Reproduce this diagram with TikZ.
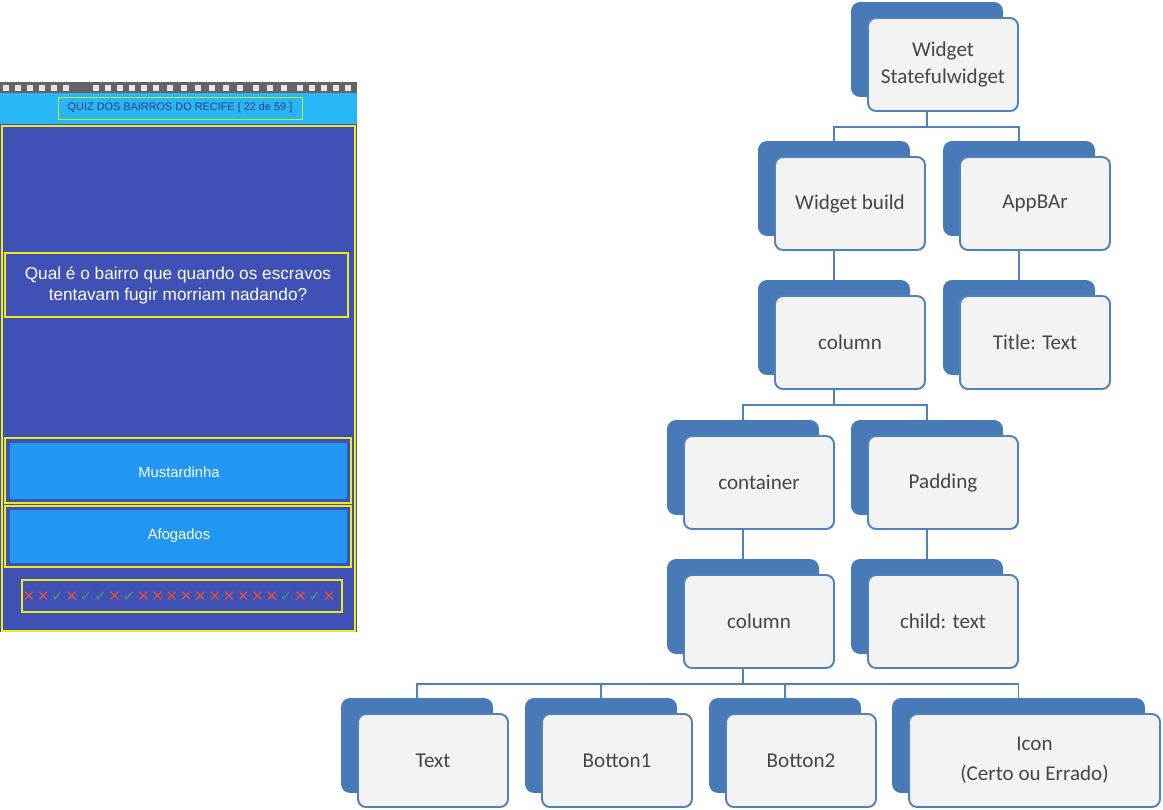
\documentclass[tikz,border=0pt]{standalone}
\usepackage{fontspec}
\setmainfont{Carlito}
\newfontfamily\phonefont{Liberation Sans}
\newfontfamily\symfont{DejaVu Sans}
\usetikzlibrary{positioning, shadows, calc}

\definecolor{boxblue}{RGB}{79,129,189}
\definecolor{shadeblue}{RGB}{72,122,184}
\definecolor{boxfill}{RGB}{243,243,243}
\definecolor{labelgray}{RGB}{70,70,70}
\definecolor{quizindigo}{RGB}{63,81,181}
\definecolor{quizcyan}{RGB}{41,182,246}
\definecolor{quizbutton}{RGB}{33,150,243}
\definecolor{quizyellow}{RGB}{238,232,30}
\definecolor{quizred}{RGB}{229,80,60}
\definecolor{quizgreen}{RGB}{67,160,90}
\definecolor{statusgray}{RGB}{100,100,100}

\tikzset{
  widget/.style={draw=boxblue, line width=1.1pt, fill=boxfill, rounded corners=0.16cm,
    minimum width=3cm, minimum height=1.86cm, align=center, text=labelgray,
    font=\fontsize{12}{15}\selectfont,
    copy shadow={shadow xshift=-0.32cm, shadow yshift=0.3cm, fill=shadeblue, draw=shadeblue}},
  link/.style={draw=boxblue, line width=1.1pt},
  frame/.style={draw=quizyellow, line width=1.1pt},
  okmark/.style={text=quizgreen, font=\symfont\fontsize{8.5}{8.5}\selectfont, inner sep=0pt},
  badmark/.style={text=quizred, font=\symfont\fontsize{8.5}{8.5}\selectfont, inner sep=0pt}
}

\begin{document}
\begin{tikzpicture}[x=0.02cm, y=-0.02cm]
  \useasboundingbox[fill=white] (0,0) rectangle (1163,809);

  % phone screen
  \fill[statusgray] (0,82) rectangle (357,93);
  \foreach \x in {6,18,30,42,54,66,96,108,120,132,144,156,170,184,198,212,226,240,256,270,284,300,312,324,336,348}
    \fill[white!80!gray] (\x-3,85) rectangle (\x+3,91);
  \fill[quizcyan] (0,93) rectangle (357,124);
  \draw[draw=quizyellow!80!green, line width=0.5pt] (58,97) rectangle (302,119);
  \node[text=quizindigo!70!black, font=\phonefont\fontsize{6.2}{7}\selectfont] (heading) at (180,108)
    {QUIZ DOS BAIRROS DO RECIFE [ 22 de 59 ]};
  \fill[quizindigo] (0,124) rectangle (357,632);
  \draw[frame] (2,126) rectangle (355,631);

  \draw[frame] (5,253) rectangle (348,317);
  \node[text=white, align=center, font=\phonefont\fontsize{9.8}{12}\selectfont] (question) at (178,285)
    {Qual é o bairro que quando os escravos\\tentavam fugir morriam nadando?};

  \draw[frame] (5,438) rectangle (351,503);
  \fill[quizbutton] (10,443) rectangle (347,499);
  \node[text=white, font=\phonefont\fontsize{8.4}{10}\selectfont] (answer1) at (179,472) {Mustardinha};
  \draw[frame] (5,506) rectangle (351,567);
  \fill[quizbutton] (10,510) rectangle (347,563);
  \node[text=white, font=\phonefont\fontsize{8.4}{10}\selectfont] (answer2) at (179,536) {Afogados};

  \draw[frame] (22,580) rectangle (342,612);
  \foreach \m [count=\i from 0] in {0,0,1,0,1,1,0,1,0,0,0,0,0,0,0,0,0,0,1,0,1,0} {
    \ifnum\m=1
      \node[okmark] (mark\i) at ({29+14.29*\i},597) {✓};
    \else
      \node[badmark] (mark\i) at ({29+14.29*\i},597) {✕};
    \fi
  }

  % widget tree
  \node[widget] (stateful) at (943,64.5) {Widget\\Statefulwidget};
  \node[widget] (build) at (850,203.5) {Widget build};
  \node[widget] (appbar) at (1035,203.5) {AppBAr};
  \node[widget] (column) at (850,342.5) {column};
  \node[widget] (title) at (1035,342.5) {Title: Text};
  \node[widget] (container) at (759,482.5) {container};
  \node[widget] (padding) at (943,482.5) {Padding};
  \node[widget] (column2) at (759,621.5) {column};
  \node[widget] (child) at (943,621.5) {child: text};
  \node[widget] (text) at (433,760.5) {Text};
  \node[widget] (botton1) at (617,760.5) {Botton1};
  \node[widget] (botton2) at (801,760.5) {Botton2};
  \node[widget, minimum width=5.02cm] (icon) at (1034.5,760.5) {Icon\\[2pt](Certo ou Errado)};

  \foreach \p/\c in {stateful/build, stateful/appbar, build/column, appbar/title,
                     column/container, column/padding, container/column2, padding/child,
                     column2/text, column2/botton1, column2/botton2, column2/icon}
    \draw[link] ($(\p.south)+(-16,0)$) -- ++(0,15) -| ($(\c.north)+(-16,-15)$);
\end{tikzpicture}
\end{document}
